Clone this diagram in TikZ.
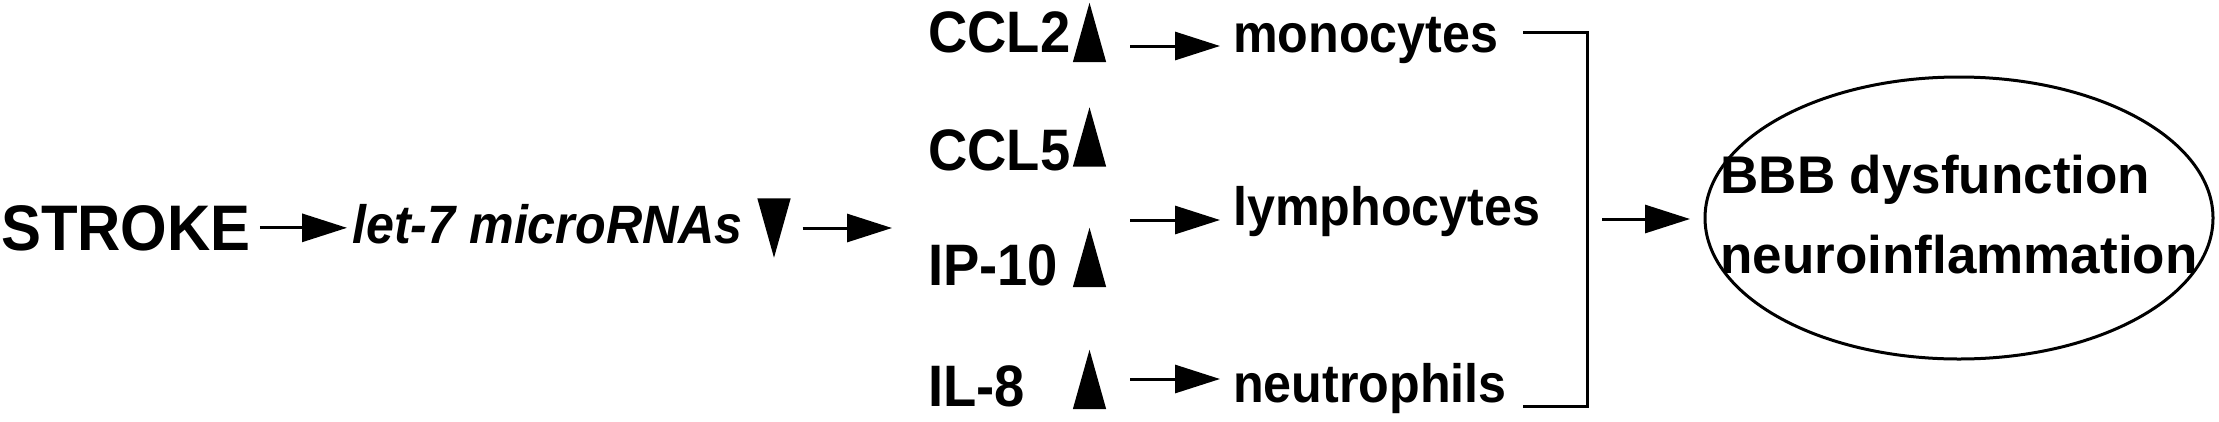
\documentclass[tikz,border=0pt]{standalone}
\usepackage{fontspec}
\setmainfont{Liberation Sans}[FakeStretch=0.93]
\newfontfamily\ellfont{Liberation Sans}
\usetikzlibrary{arrows.meta,shapes.geometric}
\begin{document}
\begin{tikzpicture}[x=1pt,y=-1pt,
  big/.style={inner sep=0pt, anchor=base west, font=\fontsize{64.4}{74}\selectfont\bfseries},
  mir/.style={inner sep=0pt, anchor=base west, font=\fontsize{54}{62}\selectfont\bfseries\itshape},
  lbl/.style={inner sep=0pt, anchor=base west, font=\fontsize{58.5}{66}\selectfont\bfseries},
  cell/.style={inner sep=0pt, anchor=base west, font=\fontsize{54}{62}\selectfont\bfseries},
  arr/.style={line width=3pt, -{Triangle[length=45pt,width=28pt]}},
  bar/.style={line width=3pt, line join=miter},
  tri/.style={inner sep=0pt, minimum width=33pt, minimum height=59pt},
  ell/.style={draw, line width=3pt, ellipse, minimum width=508pt, minimum height=282pt, inner sep=0pt},
]
\useasboundingbox (0,0) rectangle (2219,421);

% left chain
\node[big] (stroke) at (1,250) {STROKE};
\node[mir] (let7) at (352,243) {let-7 microRNAs};
\node[tri] (td) at (774,228) {};
\fill (td.north west) -- (td.north east) -- (td.south) -- cycle;

% chemokines
\node[lbl] (ccl2) at (928,52) {CCL2};
\node[lbl] (ccl5) at (928,170) {CCL5};
\node[lbl] (ip10) at (928,285) {IP-10};
\node[lbl] (il8) at (928,406) {IL-8};
\node[tri] (t1) at (1089.5,32.5) {};
\node[tri] (t2) at (1089.5,137) {};
\node[tri] (t3) at (1089.5,257.5) {};
\node[tri] (t4) at (1089.5,379.5) {};
\foreach \t in {t1,t2,t3,t4}
  \fill (\t.south west) -- (\t.south east) -- (\t.north) -- cycle;

% cells
\node[cell] (mono) at (1233,52) {monocytes};
\node[cell] (lymph) at (1233,225) {lymphocytes};
\node[cell] (neut) at (1233,402) {neutrophils};

% outcome
\node[ell] (ell) at (1959,218) {};
\node[align=left, inner sep=0pt, font=\ellfont\fontsize{53}{80}\selectfont\bfseries] (elltext) at ([yshift=3pt]ell.center) {BBB dysfunction\\neuroinflammation};

% connector points
\coordinate (r1) at (1130,46);
\coordinate (r2) at (1130,220);
\coordinate (r3) at (1130,379);
\coordinate (bt) at (1523,32);
\coordinate (bb) at (1523,406);
\coordinate (bx) at (1587,219);

% arrows
\draw[arr, shorten <=9pt, shorten >=5pt] (stroke.east) -- (stroke.east -| let7.west);
\draw[arr, shorten <=12pt, shorten >=36pt] (td.east) -- (td.east -| ccl5.west);
\draw[arr, shorten >=13pt] (r1) -- (r1 -| mono.west);
\draw[arr, shorten >=13pt] (r2) -- (r2 -| lymph.west);
\draw[arr, shorten >=13pt] (r3) -- (r3 -| neut.west);
\draw[bar] (bt) -| (bx) |- (bb);
\draw[arr, shorten <=15pt, shorten >=13.5pt] (bx) -- (bx -| ell.west);
\end{tikzpicture}
\end{document}
